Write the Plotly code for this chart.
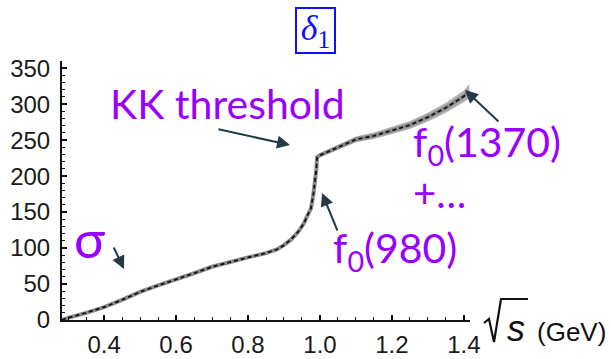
import plotly.graph_objects as go

# ---- data ----
sqrt_s = [0.283, 0.30, 0.35, 0.40, 0.45, 0.50, 0.55, 0.60, 0.65, 0.70, 0.75, 0.80,
          0.85, 0.88, 0.90, 0.92, 0.94, 0.955, 0.965, 0.975, 0.982, 0.987, 0.990,
          0.992, 1.00, 1.05, 1.10, 1.15, 1.20, 1.25, 1.30, 1.35, 1.40, 1.415]
delta1 = [0, 3, 10, 18, 28, 39, 48, 56, 65, 74, 81, 87,
          93, 98, 104, 112, 123, 134, 145, 155, 176, 193, 210,
          226, 229, 240, 251, 256, 263, 271, 282, 295, 311, 318]
delta_err = [1, 1, 1.5, 2, 2, 2, 2, 2, 2, 2, 2, 2,
             2, 2, 2, 2.5, 3, 3, 3, 3, 3, 3, 3,
             3, 3, 3.5, 4, 4.5, 5, 5.5, 6, 7, 8, 10]

x_tickvals = [0.4, 0.6, 0.8, 1.0, 1.2, 1.4]
x_ticktext = ["0.4", "0.6", "0.8", "1.0", "1.2", "1.4"]
y_tickvals = [0, 50, 100, 150, 200, 250, 300, 350]
y_ticktext = ["0", "50", "100", "150", "200", "250", "300", "350"]

# ---- layout geometry ----
WIDTH, HEIGHT = 611, 359
L, R, T, B = 62, 141, 61, 39
PW = WIDTH - L - R
PH = HEIGHT - T - B


def px(xp):
    return (xp - L) / PW


def py(yp):
    return (HEIGHT - B - yp) / PH


PURPLE = "#9900ff"
ARROW = "#243a46"
BLUE = "#1010ff"

upper = [v + e for v, e in zip(delta1, delta_err)]
lower = [v - e for v, e in zip(delta1, delta_err)]

fig = go.Figure()
fig.add_trace(go.Scatter(x=sqrt_s, y=upper, mode="lines", line=dict(width=0),
                         hoverinfo="skip", showlegend=False))
fig.add_trace(go.Scatter(x=sqrt_s, y=lower, mode="lines", line=dict(width=0),
                         fill="tonexty", fillcolor="rgba(110,110,110,0.55)",
                         hoverinfo="skip", showlegend=False))
fig.add_trace(go.Scatter(x=sqrt_s, y=delta1, mode="lines",
                         line=dict(color="#8a8a8a", width=4), showlegend=False))
fig.add_trace(go.Scatter(x=sqrt_s, y=delta1, mode="lines",
                         line=dict(color="#111111", width=1.8, dash="4px,3px"),
                         showlegend=False))

annotations = []
lato = "Lato"
annotations.append(dict(text="KK threshold", xref="paper", yref="paper",
                        x=px(108), y=py(103), xanchor="left", yanchor="middle",
                        showarrow=False, font=dict(family=lato, size=41, color=PURPLE)))
annotations.append(dict(text="σ", xref="paper", yref="paper",
                        x=px(72), y=py(238), xanchor="left", yanchor="middle",
                        showarrow=False, font=dict(family=lato, size=52, color=PURPLE)))
annotations.append(dict(text="f<sub>0</sub>(980)", xref="paper", yref="paper",
                        x=px(331), y=py(250), xanchor="left", yanchor="middle",
                        showarrow=False, font=dict(family=lato, size=41, color=PURPLE)))
annotations.append(dict(text="f<sub>0</sub>(1370)", xref="paper", yref="paper",
                        x=px(411), y=py(144), xanchor="left", yanchor="middle",
                        showarrow=False, font=dict(family=lato, size=41, color=PURPLE)))
annotations.append(dict(text="+…", xref="paper", yref="paper",
                        x=px(411), y=py(193), xanchor="left", yanchor="middle",
                        showarrow=False, font=dict(family=lato, size=40, color=PURPLE)))
for hx, hy, tx, ty in [(290, 145, 217, 129), (124, 269, 113, 246),
                       (322, 193, 338, 232), (465, 90, 500, 123)]:
    annotations.append(dict(text="", xref="paper", yref="paper", x=px(hx), y=py(hy),
                            ax=tx - hx, ay=ty - hy, showarrow=True, arrowhead=2,
                            arrowsize=1.3, arrowwidth=2, arrowcolor=ARROW))
annotations.append(dict(text="<i>δ</i><sub>1</sub>", xref="paper", yref="paper",
                        x=px(315.5), y=py(30.5), xanchor="center", yanchor="middle",
                        showarrow=False, width=37, height=43, borderwidth=2,
                        bordercolor=BLUE, borderpad=0,
                        font=dict(family="Liberation Serif", size=36, color=BLUE)))
annotations.append(dict(text="<i>s</i>", xref="paper", yref="paper",
                        x=px(516), y=py(328), xanchor="center", yanchor="middle",
                        showarrow=False,
                        font=dict(family="Liberation Sans", size=36, color="#111111")))
annotations.append(dict(text="(GeV)", xref="paper", yref="paper",
                        x=px(535), y=py(332), xanchor="left", yanchor="middle",
                        showarrow=False,
                        font=dict(family="Liberation Sans", size=26, color="#111111")))

rad = [(484, 323), (489, 319), (494, 342), (501, 299), (528, 299)]
path = "M " + " L ".join(f"{px(a):.5f},{py(b):.5f}" for a, b in rad)
shapes = [dict(type="path", xref="paper", yref="paper", path=path,
               line=dict(color="#111111", width=2.2))]

fig.update_layout(
    width=WIDTH, height=HEIGHT,
    margin=dict(l=L, r=R, t=T, b=B, pad=0),
    paper_bgcolor="white", plot_bgcolor="white",
    annotations=annotations, shapes=shapes,
    showlegend=False,
    xaxis=dict(range=[0.283, 1.417], tickvals=x_tickvals, ticktext=x_ticktext,
               automargin=False,
               showgrid=False, zeroline=False, showline=True, linecolor="#111111",
               linewidth=2, ticks="inside", ticklen=5, tickwidth=1.5, tickcolor="#111111",
               ticklabelstandoff=2,
               tickfont=dict(family="Liberation Sans", size=24, color="#1a1a1a"),
               minor=dict(dtick=0.05, tick0=0.4, ticks="inside", ticklen=3,
                          tickwidth=1, tickcolor="#111111", showgrid=False)),
    yaxis=dict(range=[0, 360], tickvals=y_tickvals, ticktext=y_ticktext,
               automargin=False,
               showgrid=False, zeroline=False, showline=True, linecolor="#111111",
               linewidth=2, ticks="inside", ticklen=5, tickwidth=1.5, tickcolor="#111111",
               ticklabelstandoff=5,
               tickfont=dict(family="Liberation Sans", size=24, color="#1a1a1a"),
               minor=dict(dtick=10, tick0=0, ticks="inside", ticklen=3,
                          tickwidth=1, tickcolor="#111111", showgrid=False)),
)

fig.write_html("out.html")
